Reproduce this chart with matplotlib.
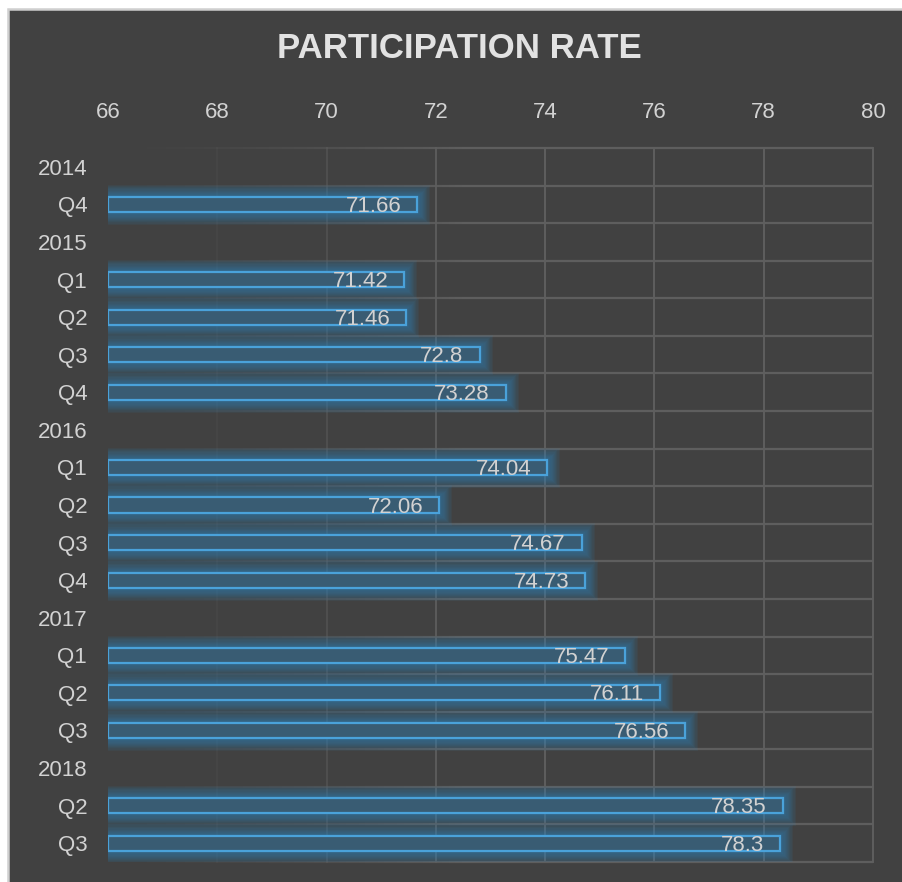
import numpy as np
import matplotlib
matplotlib.use('Agg')
import matplotlib.pyplot as plt
from matplotlib.patches import Rectangle
from matplotlib.collections import LineCollection

# data
row_labels = ['2014', 'Q4', '2015', 'Q1', 'Q2', 'Q3', 'Q4', '2016', 'Q1', 'Q2', 'Q3', 'Q4',
              '2017', 'Q1', 'Q2', 'Q3', '2018', 'Q2', 'Q3']
rates = [None, 71.66, None, 71.42, 71.46, 72.8, 73.28, None, 74.04, 72.06, 74.67, 74.73,
         None, 75.47, 76.11, 76.56, None, 78.35, 78.3]
x_ticks = [66, 68, 70, 72, 74, 76, 78, 80]
x_min, x_max = 66, 80

bg = '#414141'
grid_col = '#5e5e5e'
text_col = '#d2d2d2'
edge_blue = '#4aa2da'
fill_blue = '#395c73'

plt.rcParams['font.family'] = ['Liberation Sans', 'DejaVu Sans']

fig = plt.figure(figsize=(9.02, 8.82), dpi=100)
fig.patch.set_facecolor('white')
# dark panel with light frame on top/left
fig.patches.append(Rectangle((8 / 902, -0.05), 1.1, 1 - 9 / 882 + 0.05, transform=fig.transFigure,
                             facecolor=bg, edgecolor='#cfcfcf', linewidth=1.8, zorder=-5))

ax = fig.add_axes([108 / 902, 20 / 882, 765 / 902, 714 / 882])
ax.set_facecolor('none')
n = len(row_labels)
ypos = np.arange(n)
ax.set_xlim(x_min, x_max)
ax.set_ylim(n - 0.5, -0.5)

# grid that fades out towards the left
def fade(x):
    return float(np.clip((x - x_min) / 6.5, 0, 1)) ** 1.5

xs = np.linspace(x_min, x_max, 120)
segs, cols = [], []
for b in np.arange(n + 1) - 0.5:
    for i in range(len(xs) - 1):
        segs.append([(xs[i], b), (xs[i + 1], b)])
        a = fade((xs[i] + xs[i + 1]) / 2)
        cols.append((0.37, 0.37, 0.37, a))
ax.add_collection(LineCollection(segs, colors=cols, linewidths=1.6, zorder=1, clip_on=False))
for t in x_ticks[1:]:
    a = max(fade(t), 0.1)
    ax.plot([t, t], [-0.5, n - 0.5], color=grid_col, alpha=a, lw=1.4, zorder=1, clip_on=False)

vals = np.array([np.nan if v is None else v for v in rates])
has = ~np.isnan(vals)
widths = vals[has] - x_min
ys = ypos[has]

# glow
for lw in np.linspace(3, 18, 10):
    ax.barh(ys, widths, left=x_min, height=0.4, fill=False, edgecolor='#2f86c0',
            linewidth=lw, alpha=0.08, zorder=2)
ax.barh(ys, widths, left=x_min, height=0.4, color=fill_blue, edgecolor=edge_blue,
        linewidth=1.6, zorder=3)

for y, v in zip(ys, vals[has]):
    ax.annotate(f'{v:g}', (v, y), xytext=(-11.5, -1.5), textcoords='offset points',
                ha='right', va='center', fontsize=16, color=text_col, zorder=4)

ax.xaxis.tick_top()
ax.set_xticks(x_ticks)
ax.set_xticklabels([str(t) for t in x_ticks])
ax.set_yticks(ypos)
ax.set_yticklabels(row_labels)
ax.tick_params(axis='x', length=0, pad=18, labelsize=16, labelcolor=text_col)
ax.tick_params(axis='y', length=0, pad=15, labelsize=16, labelcolor=text_col)
for s in ax.spines.values():
    s.set_visible(False)

fig.text(0.509, 1 - 49 / 882, 'PARTICIPATION RATE', ha='center', va='center',
         fontsize=25, fontweight='bold', color='#e2e2e2')

plt.savefig('out.png', dpi=100, facecolor=fig.get_facecolor())
